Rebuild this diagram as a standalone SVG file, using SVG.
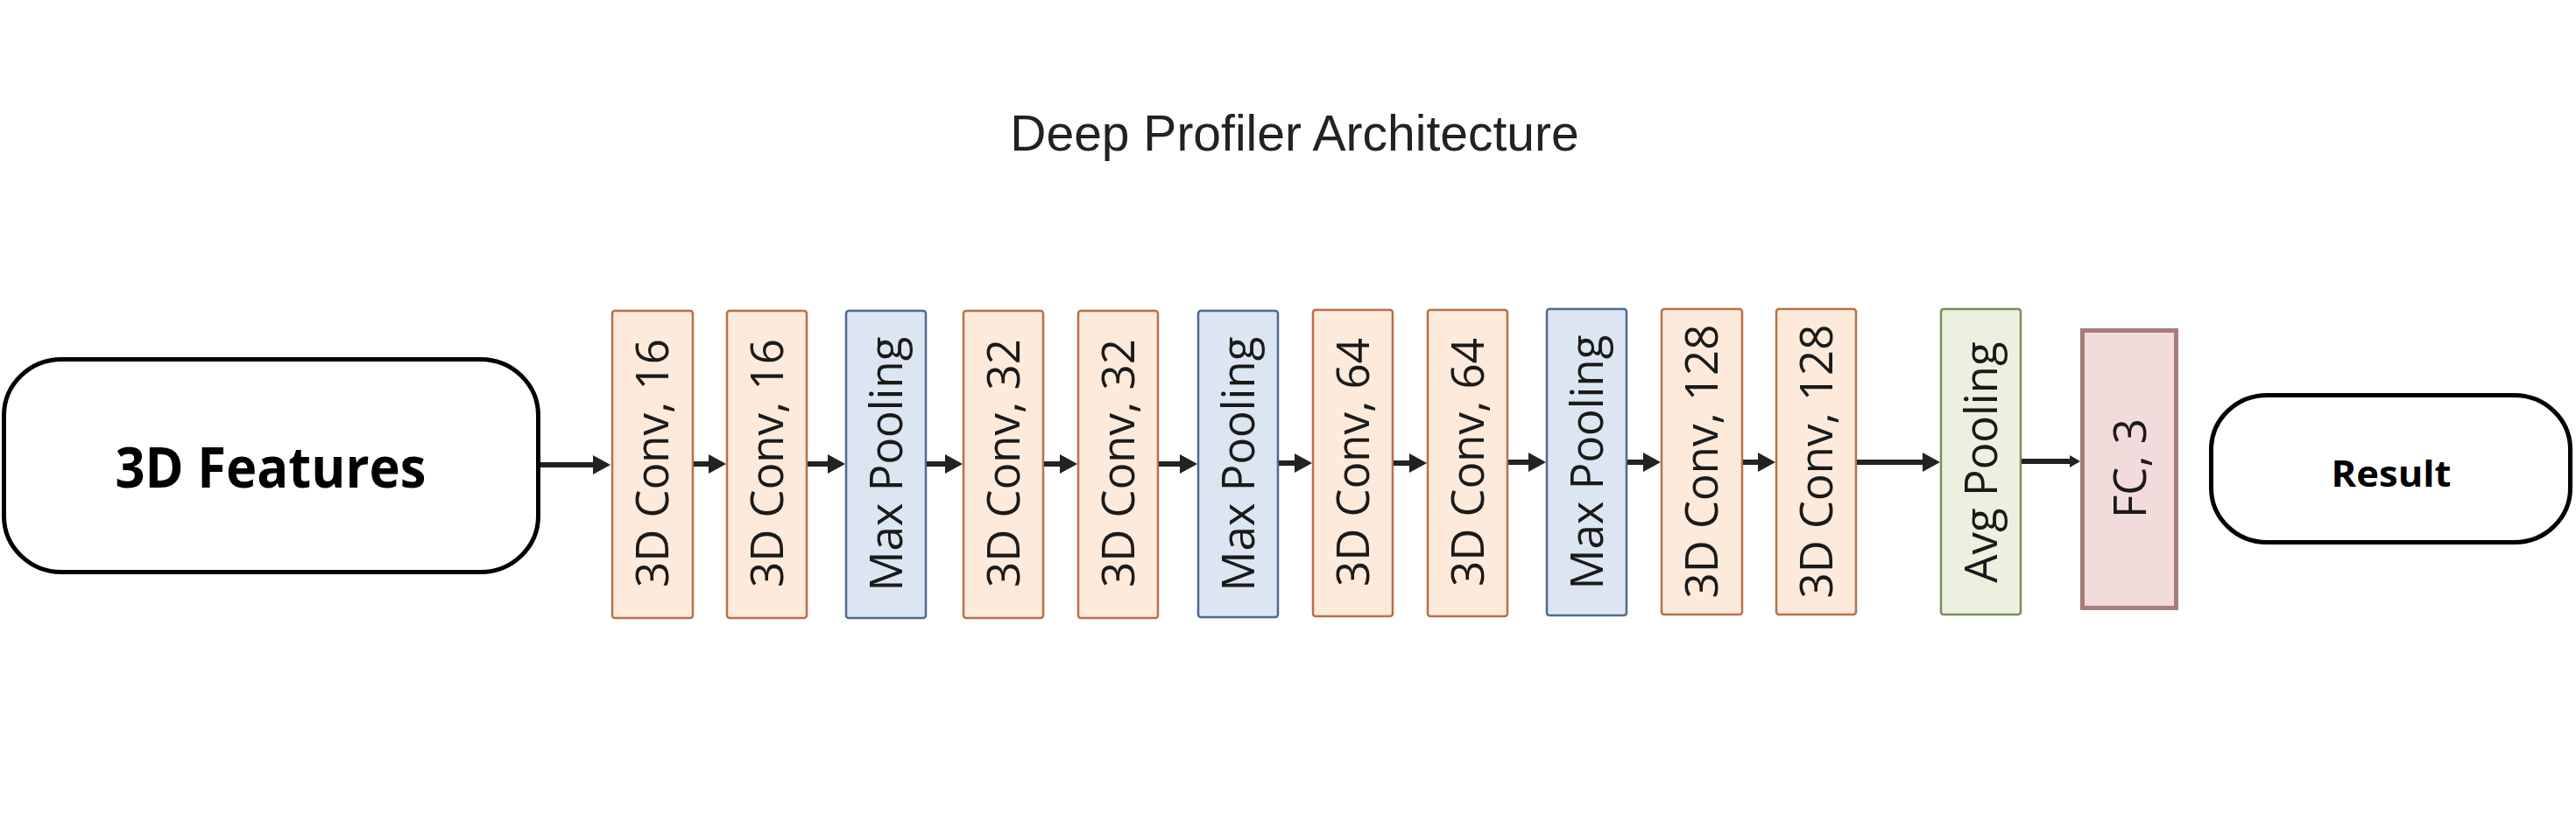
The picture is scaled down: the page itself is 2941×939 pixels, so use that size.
<svg xmlns="http://www.w3.org/2000/svg" width="2941" height="939" viewBox="0 0 2941 939">
<style>
.title{font-family:"Liberation Sans",Arial,sans-serif;font-size:57px;fill:#222;}
.io{fill:#fff;stroke:#000;stroke-width:5;}
.iotxt{font-family:"Open Sans","Noto Sans",sans-serif;font-weight:bold;fill:#000;}
.lbl{font-family:"Open Sans","Noto Sans",sans-serif;font-size:51px;fill:#1a1a1a;text-anchor:middle;}
.conv{fill:#fdeada;stroke:#b8704a;stroke-width:2.5;}
.max{fill:#dce6f2;stroke:#4f6a8c;stroke-width:2.5;}
.avg{fill:#ebf1de;stroke:#77905a;stroke-width:2.5;}
.fc{fill:#f2dcdb;stroke:#a77d7a;stroke-width:5;}
.ar{stroke:#222;stroke-width:6;fill:none;}
</style>
<defs>
<marker id="ah" markerUnits="userSpaceOnUse" markerWidth="20" markerHeight="22" refX="2" refY="11" orient="auto">
<path d="M0,0 L20,11 L0,22 z" fill="#222"/>
</marker>
<marker id="ahs" markerUnits="userSpaceOnUse" markerWidth="12" markerHeight="16" refX="1" refY="8" orient="auto">
<path d="M0,1 L12,8 L0,15 z" fill="#222"/>
</marker>
</defs>
<text class="title" x="1478" y="172" text-anchor="middle">Deep Profiler Architecture</text>

<g id="input">
<rect class="io" x="4.5" y="410.5" width="610" height="243" rx="66" ry="64"/>
<text class="iotxt" x="309" y="557" font-size="64" text-anchor="middle" textLength="355" lengthAdjust="spacingAndGlyphs">3D Features</text>
</g>

<g id="conv16a"><rect class="conv" x="699" y="355" width="92" height="351" rx="3"/><text class="lbl" transform="translate(745,529) rotate(-90)" y="18">3D Conv, 16</text></g>
<g id="conv16b"><rect class="conv" x="830" y="355" width="91" height="351" rx="3"/><text class="lbl" transform="translate(875.5,529) rotate(-90)" y="18">3D Conv, 16</text></g>
<g id="maxpool1"><rect class="max" x="966" y="355" width="91" height="351" rx="3"/><text class="lbl" transform="translate(1011.5,530) rotate(-90)" y="18">Max Pooling</text></g>
<g id="conv32a"><rect class="conv" x="1100" y="355" width="91" height="351" rx="3"/><text class="lbl" transform="translate(1145.5,529) rotate(-90)" y="18">3D Conv, 32</text></g>
<g id="conv32b"><rect class="conv" x="1231" y="355" width="91" height="351" rx="3"/><text class="lbl" transform="translate(1276.5,529) rotate(-90)" y="18">3D Conv, 32</text></g>
<g id="maxpool2"><rect class="max" x="1368" y="355" width="91" height="350" rx="3"/><text class="lbl" transform="translate(1413.5,530) rotate(-90)" y="18">Max Pooling</text></g>
<g id="conv64a"><rect class="conv" x="1499" y="354" width="91" height="350" rx="3"/><text class="lbl" transform="translate(1544.5,528) rotate(-90)" y="18">3D Conv, 64</text></g>
<g id="conv64b"><rect class="conv" x="1630" y="354" width="91" height="350" rx="3"/><text class="lbl" transform="translate(1675.5,528) rotate(-90)" y="18">3D Conv, 64</text></g>
<g id="maxpool3"><rect class="max" x="1766" y="353" width="91" height="350" rx="3"/><text class="lbl" transform="translate(1811.5,528) rotate(-90)" y="18">Max Pooling</text></g>
<g id="conv128a"><rect class="conv" x="1897" y="353" width="92" height="349" rx="3"/><text class="lbl" transform="translate(1943,527) rotate(-90)" y="18">3D Conv, 128</text></g>
<g id="conv128b"><rect class="conv" x="2028" y="353" width="91" height="349" rx="3"/><text class="lbl" transform="translate(2073.5,527) rotate(-90)" y="18">3D Conv, 128</text></g>
<g id="avgpool"><rect class="avg" x="2216" y="353" width="91" height="349" rx="3"/><text class="lbl" transform="translate(2261.5,528) rotate(-90)" y="18">Avg Pooling</text></g>
<g id="fc3"><rect class="fc" x="2377.5" y="377.5" width="107" height="317"/><text class="lbl" transform="translate(2431,535) rotate(-90)" y="19" font-size="53">FC, 3</text></g>

<g id="result">
<rect class="io" x="2524.5" y="451.5" width="410" height="168" rx="64" ry="62"/>
<text class="iotxt" x="2730" y="556" font-size="42" text-anchor="middle" textLength="137" lengthAdjust="spacingAndGlyphs">Result</text>
</g>

<g id="connectors">
<line class="ar" x1="617" y1="531" x2="679" y2="531" marker-end="url(#ah)"/>
<line class="ar" x1="792" y1="530" x2="811" y2="530" marker-end="url(#ah)"/>
<line class="ar" x1="922" y1="530" x2="947" y2="530" marker-end="url(#ah)"/>
<line class="ar" x1="1058" y1="530" x2="1081" y2="530" marker-end="url(#ah)"/>
<line class="ar" x1="1192" y1="530" x2="1212" y2="530" marker-end="url(#ah)"/>
<line class="ar" x1="1323" y1="530" x2="1349" y2="530" marker-end="url(#ah)"/>
<line class="ar" x1="1460" y1="529" x2="1480" y2="529" marker-end="url(#ah)"/>
<line class="ar" x1="1591" y1="529" x2="1611" y2="529" marker-end="url(#ah)"/>
<line class="ar" x1="1722" y1="528" x2="1747" y2="528" marker-end="url(#ah)"/>
<line class="ar" x1="1858" y1="528" x2="1878" y2="528" marker-end="url(#ah)"/>
<line class="ar" x1="1990" y1="528" x2="2009" y2="528" marker-end="url(#ah)"/>
<line class="ar" x1="2120" y1="528" x2="2197" y2="528" stroke-width="5" marker-end="url(#ah)"/>
<line class="ar" x1="2308" y1="527" x2="2364" y2="527" stroke-width="9" marker-end="url(#ahs)"/>
</g>
</svg>
